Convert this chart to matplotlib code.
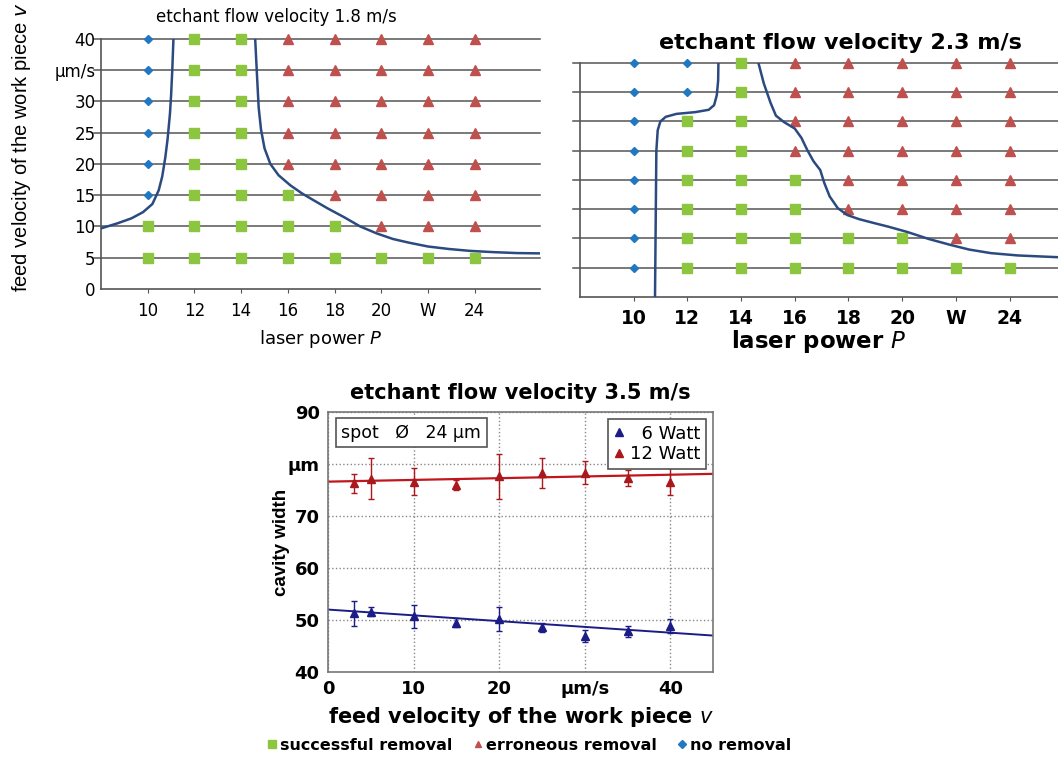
import matplotlib
matplotlib.use("Agg")
from matplotlib import pyplot as plt
from matplotlib.lines import Line2D

plt.rcParams['font.family'] = ['DejaVu Sans']

powers = [10, 12, 14, 16, 18, 20, 22, 24]
power_labels = ["10", "12", "14", "16", "18", "20", "W", "24"]
feeds = [5, 10, 15, 20, 25, 30, 35, 40]
feed_labels = ["0", "5", "10", "15", "20", "25", "30", "µm/s", "40"]

# result per power column, feed 5 -> 40: s = successful, e = erroneous, n = no removal
result_18 = ["ssnnnnnn", "ssssssss", "ssssssss", "ssseeeee",
             "sseeeeee", "seeeeeee", "seeeeeee", "seeeeeee"]
result_23 = ["nnnnnnnn", "ssssssnn", "ssssssss", "sssseeee",
             "sseeeeee", "sseeeeee", "seeeeeee", "seeeeeee"]

# process window borders (laser power, feed velocity)
left_18_p = [8.0, 8.7, 9.3, 9.8, 10.2, 10.47, 10.62, 10.75, 10.85, 10.95, 11.0, 11.05, 11.1]
left_18_v = [9.7, 10.5, 11.3, 12.3, 13.6, 15.8, 18.0, 21.0, 24.0, 28.0, 31.0, 35.0, 40.0]
right_18_p = [14.6, 14.68, 14.75, 14.85, 15.0, 15.25, 15.6, 16.1, 16.6, 17.1, 17.7, 18.4,
              19.1, 19.8, 20.5, 21.2, 22.0, 22.9, 23.8, 24.8, 25.8, 26.8]
right_18_v = [40.0, 34.0, 29.0, 25.5, 22.5, 20.0, 18.2, 16.6, 15.3, 14.2, 12.9, 11.5,
              10.0, 8.9, 8.0, 7.4, 6.8, 6.4, 6.1, 5.9, 5.75, 5.7]

left_23_p = [10.8, 10.85, 10.9, 11.0, 11.2, 11.6, 12.3, 12.8, 13.0, 13.1, 13.15, 13.16]
left_23_v = [0.0, 25.0, 28.5, 30.0, 30.8, 31.3, 31.6, 32.0, 32.8, 34.5, 37.0, 40.0]
right_23_p = [14.65, 14.85, 15.1, 15.3, 15.6, 16.0, 16.25, 16.47, 16.7, 16.95, 17.1, 17.3,
              17.6, 17.96, 18.4, 18.9, 19.5, 20.2, 21.0, 21.8, 22.5, 23.3, 24.3, 25.8]
right_23_v = [40.0, 36.5, 33.2, 31.0, 29.9, 28.8, 27.2, 25.1, 23.2, 21.7, 19.5, 17.2,
              15.2, 14.0, 13.3, 12.7, 12.0, 11.1, 9.9, 8.9, 8.1, 7.5, 7.1, 6.8]

# cavity width at 3.5 m/s
feed_35 = [3, 5, 10, 15, 20, 25, 30, 35, 40]
width_6w = [51.3, 51.6, 50.7, 49.5, 50.1, 48.6, 46.9, 47.8, 48.8]
err_6w = [2.4, 0.8, 2.2, 0.8, 2.3, 0.9, 1.2, 1.1, 1.3]
width_12w = [76.3, 77.2, 76.6, 76.0, 77.6, 78.2, 78.3, 77.3, 76.6]
err_12w = [1.8, 4.0, 2.6, 1.0, 4.3, 2.9, 2.2, 1.5, 2.6]
fit_x = [0, 45]
fit_6w = [52.0, 47.0]
fit_12w = [76.6, 78.1]

green = "#8cc63e"
red = "#c0504d"
blue = "#1f78c1"
curve = "#2b4a80"
grid_col = "#555555"
marker_style = {"s": ("s", green, 6.5), "e": ("^", red, 6.5), "n": ("D", blue, 4.5)}


def draw_window(ax, results, left_p, left_v, right_p, right_v, xmax, ylabels, weight, tsize):
    for v in feeds:
        ax.axhline(v, color=grid_col, lw=1.1, zorder=1, clip_on=False, xmin=-0.015)
    for code, (m, c, ms) in marker_style.items():
        xs, ys = [], []
        for p, col in zip(powers, results):
            for v, r in zip(feeds, col):
                if r == code:
                    xs.append(p)
                    ys.append(v)
        ax.plot(xs, ys, ls="none", marker=m, color=c, ms=ms, zorder=3, clip_on=False)
    ax.plot(left_p, left_v, color=curve, lw=1.8, zorder=4, solid_joinstyle="round")
    ax.plot(right_p, right_v, color=curve, lw=1.8, zorder=4, solid_joinstyle="round")
    ax.set_xlim(8, xmax)
    ax.set_ylim(0, 40)
    ax.set_xticks(powers, power_labels, fontweight=weight)
    ax.set_yticks([0] + feeds, ylabels)
    for s in ["top", "right"]:
        ax.spines[s].set_visible(False)
    for s in ["left", "bottom"]:
        ax.spines[s].set_color(grid_col)
        ax.spines[s].set_linewidth(1.2)
    ax.tick_params(axis="x", length=3, color=grid_col, labelsize=tsize, pad=6)
    ax.tick_params(axis="y", length=0, labelsize=12, pad=4)


fig = plt.figure(figsize=(10.58, 7.58), dpi=100)

ax1 = fig.add_axes([0.0955, 0.6187, 0.415, 0.330])
draw_window(ax1, result_18, left_18_p, left_18_v, right_18_p, right_18_v, 26.8, feed_labels,
            "normal", 12)
ax1.set_title("etchant flow velocity 1.8 m/s", fontsize=12, pad=12, x=0.40)
ax1.set_xlabel("laser power $\\it{P}$", fontsize=13, labelpad=6)
ax1.set_ylabel("feed velocity of the work piece $\\it{v}$", fontsize=14.5,
               family="Liberation Sans")
ax1.yaxis.set_label_coords(-0.155, 0.565)

ax2 = fig.add_axes([0.548, 0.6082, 0.452, 0.3087])
draw_window(ax2, result_23, left_23_p, left_23_v, right_23_p, right_23_v, 25.8, [""] * 9,
            "bold", 13.5)
ax2.set_title("etchant flow velocity 2.3 m/s", fontsize=16, pad=10, x=0.545, fontweight="bold")
ax2.set_xlabel("laser power $\\it{P}$", fontsize=16.5, labelpad=0, fontweight="bold")

ax3 = fig.add_axes([0.310, 0.1135, 0.364, 0.343])
ax3.errorbar(feed_35, width_12w, yerr=err_12w, fmt="^", color="#a8181c", ms=6,
             capsize=2, elinewidth=1, zorder=3)
ax3.errorbar(feed_35, width_6w, yerr=err_6w, fmt="^", color="#1c1c86", ms=6,
             capsize=2, elinewidth=1, zorder=3)
ax3.plot(fit_x, fit_12w, color="#c0161c", lw=1.6, zorder=2)
ax3.plot(fit_x, fit_6w, color="#1c1c86", lw=1.4, zorder=2)
ax3.set_xlim(0, 45)
ax3.set_ylim(40, 90)
ax3.set_xticks([0, 10, 20, 30, 40], ["0", "10", "20", "µm/s", "40"], fontweight="bold")
ax3.set_yticks([40, 50, 60, 70, 80, 90], ["40", "50", "60", "70", "µm", "90"], fontweight="bold")
ax3.grid(True, ls=":", color="#888888", lw=1)
ax3.tick_params(length=0, labelsize=13, pad=6)
for s in ax3.spines.values():
    s.set_color("#777777")
    s.set_linewidth(1.2)
ax3.set_title("etchant flow velocity 3.5 m/s", fontsize=15, pad=9, fontweight="bold")
ax3.set_xlabel("feed velocity of the work piece $\\it{v}$", fontsize=15, labelpad=5,
               fontweight="bold")
ax3.set_ylabel("cavity width", fontsize=13.5, labelpad=-2, family="Liberation Sans",
               fontweight="bold")
ax3.text(0.035, 0.955, "spot   Ø   24 µm", transform=ax3.transAxes, fontsize=12.5,
         va="top", ha="left",
         bbox=dict(boxstyle="square,pad=0.3", fc="white", ec="#555555", lw=1.2))
watt_handles = [Line2D([], [], ls="none", marker="^", color="#1c1c86", ms=6),
                Line2D([], [], ls="none", marker="^", color="#a8181c", ms=6)]
leg3 = ax3.legend(watt_handles, ["  6 Watt", "12 Watt"], loc="upper right", fontsize=13,
                  fancybox=False, edgecolor="#555555", handlelength=0.6, handletextpad=0.3,
                  borderpad=0.3, labelspacing=0.15, framealpha=1, borderaxespad=0.4)
leg3.get_frame().set_linewidth(1.2)

key_handles = [Line2D([], [], ls="none", marker="s", color=green, ms=6),
               Line2D([], [], ls="none", marker="^", color=red, ms=5),
               Line2D([], [], ls="none", marker="D", color=blue, ms=4)]
fig.legend(key_handles, ["successful removal", "erroneous removal", "no removal"],
           loc="center", bbox_to_anchor=(0.5, 0.017), ncol=3, frameon=False,
           prop={"weight": "bold", "size": 11.5}, handlelength=0.6, handletextpad=0.2,
           columnspacing=1.3)

fig.savefig("out.png", dpi=100)
